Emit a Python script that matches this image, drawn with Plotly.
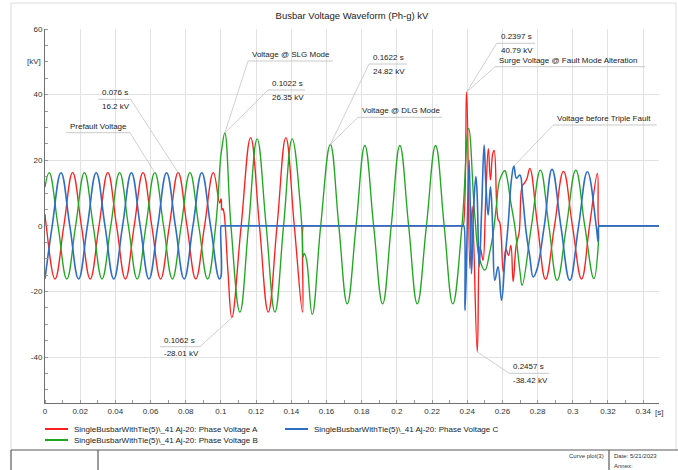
import plotly.graph_objects as go

# ---------------- data ----------------
A_t = [0, 0.0007, 0.0057, 0.0107, 0.0157, 0.0207, 0.0257, 0.0307, 0.0357, 0.0407, 0.0457,
       0.0507, 0.0557, 0.0607, 0.0657, 0.0707, 0.0757, 0.0807, 0.0857, 0.0907, 0.0957,
       0.0993, 0.1001, 0.1006, 0.1011, 0.1018, 0.1040, 0.1062, 0.1115, 0.1169, 0.1219,
       0.1269, 0.1319, 0.1369, 0.1417, 0.1464, 0.1468, 0.1471,
       0.2374, 0.2377, 0.2397, 0.2415, 0.2428, 0.2457, 0.2472, 0.2480, 0.2490, 0.2505,
       0.2520, 0.2532, 0.2545, 0.2553, 0.2575, 0.2585, 0.2605, 0.2620, 0.2635, 0.2648,
       0.2661, 0.2678, 0.2695, 0.2712, 0.2725, 0.2740, 0.2756, 0.2800, 0.2845, 0.2896,
       0.2947, 0.2998, 0.3050, 0.3095, 0.3140, 0.3148, 0.3151, 0.35]
A_v = [3.5, 0, -16.2, 0, 16.2, 0, -16.2, 0, 16.2, 0, -16.2,
       0, 16.2, 0, -16.2, 0, 16.2, 0, -16.2, 0, 16.2,
       7.0, 8.2, 4.8, 5.2, 3.8, -14, -28.0, 0, 26.9, 0,
       -26.3, 0, 26.9, 0, -26.3, 0, 0,
       0, 0, 40.8, -13, 6, -38.4, -6.4, -8, -10.5, 8,
       23.5, 14, 22, 23, 2, 1, -14, -7, -9, -6,
       -17, -6, -2, 12, 13, 14.5, 17.5, 0, -16.3, 0,
       16.6, 0, -16.2, 0, 16, 0, 0, 0]

B_t = [0, 0.0024, 0.0074, 0.0124, 0.0174, 0.0224, 0.0274, 0.0324, 0.0374, 0.0424, 0.0474,
       0.0524, 0.0574, 0.0624, 0.0674, 0.0724, 0.0774, 0.0824, 0.0874, 0.0924, 0.0970,
       0.0998, 0.1004, 0.1022, 0.1057, 0.1108, 0.1157, 0.1206, 0.1257, 0.1307, 0.1356,
       0.1405, 0.1453, 0.1464, 0.1467, 0.1474, 0.1487, 0.1519, 0.1567, 0.1622, 0.1670,
       0.1718, 0.1768, 0.1818, 0.1868, 0.1919, 0.1968, 0.2017, 0.2067, 0.2116, 0.2168,
       0.2220, 0.2269, 0.2318, 0.2370, 0.2408, 0.2443, 0.2472, 0.2500, 0.2528, 0.2548,
       0.2566, 0.2585, 0.2614, 0.2625, 0.2648, 0.2670, 0.2700, 0.2712, 0.2765, 0.2816,
       0.2864, 0.2911, 0.2964, 0.3017, 0.3068, 0.3120, 0.3146, 0.3148, 0.3151, 0.35]
B_v = [11.8, 16.2, 0, -16.2, 0, 16.2, 0, -16.2, 0, 16.2, 0,
       -16.2, 0, 16.2, 0, -16.2, 0, 16.2, 0, -16.2, 0,
       20.6, 23.1, 28.3, 0, -26.3, 0, 26.5, 0, -26.3, 0,
       26.5, 5, -5.4, -9.5, -8.4, -10.5, -27.0, 0, 24.8, 0,
       -23.8, 0, 24.5, 0, -23.8, 0, 24.5, 0, -23.8, 0,
       24.5, 0, -23.8, 0, 29.7, 3, -10.5, -13.5, -8, -2,
       6.3, 14, 16.8, 15, 7, 0, -14, -18.1, 0, 17,
       0, -16.6, 0, 17, 0, -16.1, -5, 0, 0, 0]

C_t = [0, 0.0041, 0.0091, 0.0141, 0.0191, 0.0241, 0.0291, 0.0341, 0.0391, 0.0441, 0.0491,
       0.0541, 0.0591, 0.0641, 0.0691, 0.0741, 0.0791, 0.0841, 0.0891, 0.0941, 0.0991,
       0.1000, 0.1001, 0.1004, 0.2378, 0.2381, 0.2388, 0.2411, 0.2424, 0.2436, 0.2449,
       0.2456, 0.2468, 0.2482, 0.2496, 0.2505, 0.2519, 0.2532, 0.2545, 0.2557, 0.2575,
       0.2595, 0.2614, 0.2633, 0.2651, 0.2665, 0.2680, 0.2699, 0.2715, 0.2735, 0.2756,
       0.2775, 0.2795, 0.2838, 0.2882, 0.2932, 0.2983, 0.3033, 0.3083, 0.3133, 0.3144,
       0.3148, 0.3151, 0.35]
C_v = [-16.1, 0, 16.2, 0, -16.2, 0, 16.2, 0, -16.2, 0, 16.2,
       0, -16.2, 0, 16.2, 0, -16.2, 0, 16.2, 0, -16.2,
       -15.5, 0, 0, 0, 0, -25.8, 20, -14.6, 5, 15,
       10, -12.5, 5, 24.6, 14, 3.3, 11.9, -1, -16.6, -12.5,
       -22.7, -10.5, 0.7, 13.9, 18.2, 14.5, 15.5, 8.9, -2, -9.5,
       -15.6, -13.5, 0, 17.2, 0, -16.6, 0, 16.5, 0, -4.9,
       0, 0, 0]

series_names = [
    "SingleBusbarWithTie(5)\\_41 Aj-20: Phase Voltage A",
    "SingleBusbarWithTie(5)\\_41 Aj-20: Phase Voltage B",
    "SingleBusbarWithTie(5)\\_41 Aj-20: Phase Voltage C",
]
x_ticks = [round(0.02 * i, 2) for i in range(18)]
y_ticks = [-40, -20, 0, 20, 40, 60]

assert len(A_t) == len(A_v) and len(B_t) == len(B_v) and len(C_t) == len(C_v)

# ---------------- layout constants ----------------
W, H = 678, 470
L, R, T, B = 45, 659, 29, 403
X_RANGE = [0, 0.349]
Y_RANGE = [-54, 60]
FONT = "Liberation Sans, Arial, sans-serif"
colors = {"A": "#ff1f1f", "B": "#22a722", "C": "#2e6ec4"}
widths = {"A": 1.35, "B": 1.35, "C": 1.6}
series = {"A": (A_t, A_v), "B": (B_t, B_v), "C": (C_t, C_v)}


def xp(px):
    return (px - L) / (R - L)


def yp(py):
    return (B - py) / (B - T)


def px2t(px):
    return X_RANGE[0] + (px - L) / (R - L) * (X_RANGE[1] - X_RANGE[0])


def py2v(py):
    return Y_RANGE[1] - (py - T) / (B - T) * (Y_RANGE[1] - Y_RANGE[0])


def at(key, t):
    ts, vs = series[key]
    i = min(range(len(ts)), key=lambda k: abs(ts[k] - t))
    return ts[i], vs[i]


fig = go.Figure()
for key, name in zip(["A", "B", "C"], series_names):
    ts, vs = series[key]
    fig.add_trace(go.Scatter(x=ts, y=vs, mode="lines", name=name, showlegend=False,
                             line=dict(color=colors[key], width=widths[key], shape="spline", smoothing=1.2),
                             hoverinfo="skip"))

shapes = []
annotations = []

# ---------------- callouts ----------------
callouts = [
    dict(lines=["Prefault Voltage"], x0=66, x1=130, y=132.7, end="right", target=("B", 0.0624)),
    dict(lines=["0.076 s", "16.2 kV"], x0=98.3, x1=130.7, y=99.3, end="right", target=("A", 0.0757)),
    dict(lines=["Voltage @ SLG Mode"], x0=248, x1=333, y=61, end="left", target=("B", 0.1022)),
    dict(lines=["0.1022 s", "26.35 kV"], x0=268, x1=305, y=90, end="left", target=("B", 0.1022)),
    dict(lines=["0.1062 s", "-28.01 kV"], x0=160, x1=200, y=346.7, end="right", target=("A", 0.1062)),
    dict(lines=["0.1622 s", "24.82 kV"], x0=369, x1=407, y=64, end="left", target=("B", 0.1622)),
    dict(lines=["Voltage @ DLG Mode"], x0=358, x1=442, y=117.3, end="left", target=("B", 0.1622)),
    dict(lines=["0.2397 s", "40.79 kV"], x0=496.7, x1=535, y=43.3, end="left", target=("A", 0.2397)),
    dict(lines=["Surge Voltage @ Fault Mode Alteration"], x0=495, x1=645, y=66.7, end="left",
         target=("A", 0.2397)),
    dict(lines=["Voltage before Triple Fault"], x0=553.3, x1=656.7, y=125, end="left", target=("C", 0.2665)),
    dict(lines=["0.2457 s", "-38.42 kV"], x0=509.3, x1=549.3, y=373.3, end="left", target=("A", 0.2457)),
]
LEAD = "#c4c4c4"
for c in callouts:
    shapes.append(dict(type="line", xref="x", yref="y", x0=px2t(c["x0"]), x1=px2t(c["x1"]),
                       y0=py2v(c["y"]), y1=py2v(c["y"]), line=dict(color=LEAD, width=0.9)))
    ex = c["x1"] if c["end"] == "right" else c["x0"]
    tx, tv = at(*c["target"])
    shapes.append(dict(type="line", xref="x", yref="y", x0=px2t(ex), y0=py2v(c["y"]), x1=tx, y1=tv,
                       line=dict(color=LEAD, width=0.8)))
    offs = [-6.5, 7.2]
    for line_txt, off in zip(c["lines"], offs):
        annotations.append(dict(xref="x", yref="y", x=px2t(c["x0"] + 2), y=py2v(c["y"] + off),
                                text=line_txt, showarrow=False, xanchor="left", yanchor="middle",
                                font=dict(family=FONT, size=8, color="#222")))

# ---------------- axis unit labels ----------------
annotations.append(dict(xref="paper", yref="paper", x=xp(42.5), y=yp(61), text="[kV]", showarrow=False,
                        xanchor="right", yanchor="middle", font=dict(family=FONT, size=8, color="#333")))
annotations.append(dict(xref="paper", yref="paper", x=xp(659), y=yp(412), text="[s]", showarrow=False,
                        xanchor="center", yanchor="middle", font=dict(family=FONT, size=8, color="#333")))

# ---------------- manual legend ----------------
legend_pos = [("A", 45, 429), ("C", 285, 429), ("B", 45, 440)]
for key, lx, ly in legend_pos:
    name = series_names["ABC".index(key)]
    shapes.append(dict(type="line", xref="paper", yref="paper", x0=xp(lx), x1=xp(lx + 23),
                       y0=yp(ly), y1=yp(ly), line=dict(color=colors[key], width=2)))
    annotations.append(dict(xref="paper", yref="paper", x=xp(lx + 27), y=yp(ly), text=name,
                            showarrow=False, xanchor="left", yanchor="middle",
                            font=dict(family=FONT, size=8, color="#222")))

# ---------------- frame and footer box ----------------
FRAME = "#dcdcdc"
DARK = "#5a5a5a"
shapes += [
    dict(type="line", xref="paper", yref="paper", x0=xp(11), x1=xp(676), y0=yp(3), y1=yp(3),
         line=dict(color=FRAME, width=1)),
    dict(type="line", xref="paper", yref="paper", x0=xp(11), x1=xp(11), y0=yp(3), y1=yp(450),
         line=dict(color=FRAME, width=1)),
    dict(type="line", xref="paper", yref="paper", x0=xp(676), x1=xp(676), y0=yp(3), y1=yp(450),
         line=dict(color=FRAME, width=1)),
    dict(type="line", xref="paper", yref="paper", x0=xp(11), x1=xp(678), y0=yp(450), y1=yp(450),
         line=dict(color=DARK, width=1.2)),
    dict(type="line", xref="paper", yref="paper", x0=xp(11), x1=xp(11), y0=yp(450), y1=yp(471),
         line=dict(color=DARK, width=1.2)),
    dict(type="line", xref="paper", yref="paper", x0=xp(98), x1=xp(98), y0=yp(450), y1=yp(471),
         line=dict(color=DARK, width=1.2)),
    dict(type="line", xref="paper", yref="paper", x0=xp(609), x1=xp(609), y0=yp(450), y1=yp(471),
         line=dict(color=DARK, width=1.2)),
]
footer = [("Curve plot(3)", 606, 456, "right"), ("Date: 5/21/2023", 612, 456, "left"),
          ("Annex:", 612, 466, "left")]
for txt, fx, fy, anc in footer:
    annotations.append(dict(xref="paper", yref="paper", x=xp(fx), y=yp(fy), text=txt, showarrow=False,
                            xanchor=anc, yanchor="middle", font=dict(family=FONT, size=6, color="#333")))

axis_common = dict(showgrid=True, gridcolor="#e2e2e2", gridwidth=1, zeroline=False,
                   showline=True, linecolor="#707070", linewidth=1, ticks="",
                   tickfont=dict(family=FONT, size=8, color="#333"))

fig.update_layout(
    width=W, height=H,
    margin=dict(l=L, r=W - R, t=T, b=H - B),
    paper_bgcolor="white", plot_bgcolor="white",
    font=dict(family=FONT, size=8, color="#222"),
    title=dict(text="Busbar Voltage Waveform (Ph-g) kV", x=0.5, xref="paper", xanchor="center",
               y=1 - 15.7 / H, yref="container", yanchor="middle",
               font=dict(family=FONT, size=9.5, color="#222")),
    xaxis=dict(range=X_RANGE, tickvals=x_ticks, ticktext=[("%g" % v) for v in x_ticks],
               minor=dict(ticks="inside", ticklen=3, dtick=0.01, tick0=0, tickcolor="#999", showgrid=False),
               **axis_common),
    yaxis=dict(range=Y_RANGE, tickvals=y_ticks, ticktext=[str(v) for v in y_ticks],
               minor=dict(ticks="inside", ticklen=3, dtick=5, tick0=0, tickcolor="#999", showgrid=False),
               **axis_common),
    showlegend=False,
    shapes=shapes,
    annotations=annotations,
)

fig.write_html("out.html", config={"displayModeBar": False},
               post_script="document.body.style.margin='0px';")
